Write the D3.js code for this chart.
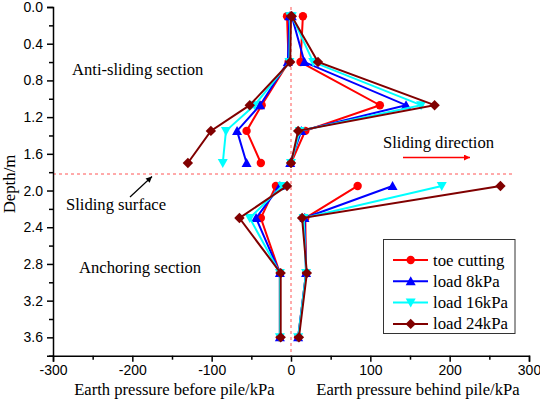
<!DOCTYPE html>
<html><head><meta charset="utf-8">
<script src="https://cdn.jsdelivr.net/npm/d3@7"></script>
<style>body{margin:0;background:#fff}svg{display:block}</style>
</head><body><svg id="c" width="540" height="399"></svg>
<script>
const seriesNames = ["toe cutting", "load 8kPa", "load 16kPa", "load 24kPa"];
const seriesColors = ["#ff0000", "#0000ff", "#00ffff", "#800000"];
const seriesSymbols = ["circle", "up", "down", "diamond"];
const upperDepth = [0.1, 0.6, 1.07, 1.35, 1.7];
const lowerDepth = [1.95, 2.3, 2.9, 3.6];
const beforeUpper = [
  [-5, -3, -37, -56, -38],
  [-2, -4, -39, -68, -56],
  [-1, -2, -46, -82, -86],
  [0, -1, -52, -101, -130]
];
const behindUpper = [
  [15, 12, 112, 18, 0],
  [1, 17, 145, 13, -1],
  [1, 28, 164, 11, 0],
  [1, 34, 181, 9, 0]
];
const beforeLower = [
  [-19, -38, -14, -14],
  [-14, -44, -14, -14],
  [-11, -52, -14, -14],
  [-5, -65, -13, -13]
];
const behindLower = [
  [84, 18, 19, 9],
  [128, 17, 19, 9],
  [190, 16, 19, 9],
  [264, 14, 20, 10]
];
const xTicks = [-300, -200, -100, 0, 100, 200, 300];
const yTicks = [0.0, 0.4, 0.8, 1.2, 1.6, 2.0, 2.4, 2.8, 3.2, 3.6];
const slidingDepth = 1.82;

const svg = d3.select("#c");
const x = d3.scaleLinear().domain([-300, 300]).range([53, 529]);
const y = d3.scaleLinear().domain([0, 3.8]).range([7, 355.7]);
const serif = "'Liberation Serif','Times New Roman',serif";
const sans = "'Liberation Sans',Arial,sans-serif";
const fsAnn = 16.6, fsLeg = 16.8;

// reference lines
svg.append("line").attr("x1", x(0)).attr("x2", x(0)).attr("y1", y(0)).attr("y2", y(3.8))
  .attr("stroke", "#ff5555").attr("stroke-width", 1).attr("stroke-dasharray", "3,3");
svg.append("line").attr("x1", x(-300)).attr("x2", x(282)).attr("y1", y(slidingDepth)).attr("y2", y(slidingDepth))
  .attr("stroke", "#ff5555").attr("stroke-width", 1).attr("stroke-dasharray", "3,3");

// axes
const xAxis = d3.axisBottom(x).tickValues(xTicks).tickSize(6).tickPadding(3).tickFormat(d => String(d));
svg.append("g").attr("transform", `translate(0,${y(3.8)})`).call(xAxis);
const xMinor = d3.axisBottom(x).tickValues(d3.range(-250, 300, 100)).tickSize(4).tickFormat("");
svg.append("g").attr("transform", `translate(0,${y(3.8)})`).call(xMinor).select(".domain").remove();
const yAxis = d3.axisLeft(y).tickValues(yTicks).tickSize(6).tickPadding(4).tickFormat(d3.format(".1f"));
svg.append("g").attr("transform", `translate(${x(-300)},0)`).call(yAxis);
const yMinor = d3.axisLeft(y).tickValues(d3.range(0.2, 3.81, 0.4)).tickSize(4).tickFormat("");
svg.append("g").attr("transform", `translate(${x(-300)},0)`).call(yMinor).select(".domain").remove();
svg.selectAll(".domain").attr("stroke-width", 1.5);
svg.selectAll(".tick line").attr("stroke-width", 1.5);
svg.selectAll(".tick text").attr("font-family", sans).attr("font-size", 14).attr("fill", "#000");

// axis titles
svg.append("text").attr("x", x(-147)).attr("y", 395).attr("text-anchor", "middle")
  .attr("font-family", serif).attr("font-size", fsAnn).text("Earth pressure before pile/kPa");
svg.append("text").attr("x", x(160)).attr("y", 395).attr("text-anchor", "middle")
  .attr("font-family", serif).attr("font-size", fsAnn).text("Earth pressure behind pile/kPa");
svg.append("text").attr("transform", `translate(15,184) rotate(-90)`).attr("text-anchor", "middle")
  .attr("font-family", serif).attr("font-size", 16.8).text("Depth/m");

// symbols
function drawSymbol(g, sym, cx, cy, color) {
  const s = 5;
  if (sym === "circle") g.append("circle").attr("cx", cx).attr("cy", cy).attr("r", 4.2).attr("fill", color);
  else if (sym === "up") g.append("path").attr("d", `M${cx},${cy - s} L${cx + s},${cy + s * 0.8} L${cx - s},${cy + s * 0.8}Z`).attr("fill", color);
  else if (sym === "down") g.append("path").attr("d", `M${cx},${cy + s} L${cx + s},${cy - s * 0.8} L${cx - s},${cy - s * 0.8}Z`).attr("fill", color);
  else g.append("path").attr("d", `M${cx},${cy - 5.2} L${cx + 5.2},${cy} L${cx},${cy + 5.2} L${cx - 5.2},${cy}Z`).attr("fill", color);
}

const line = d3.line().x(d => x(d[0])).y(d => y(d[1]));
seriesNames.forEach((name, i) => {
  const g = svg.append("g");
  const sets = [
    [beforeUpper[i], upperDepth], [behindUpper[i], upperDepth],
    [beforeLower[i], lowerDepth], [behindLower[i], lowerDepth]
  ];
  sets.forEach(([vals, depths]) => {
    const pts = vals.map((v, k) => [v, depths[k]]);
    g.append("path").attr("d", line(pts)).attr("fill", "none").attr("stroke", seriesColors[i]).attr("stroke-width", 2);
    pts.forEach(p => drawSymbol(g, seriesSymbols[i], x(p[0]), y(p[1]), seriesColors[i]));
  });
});

// annotations
svg.append("text").attr("x", 72).attr("y", 75).attr("font-family", serif).attr("font-size", fsAnn).text("Anti-sliding section");
svg.append("text").attr("x", 66).attr("y", 210).attr("font-family", serif).attr("font-size", fsAnn).text("Sliding surface");
svg.append("text").attr("x", 79).attr("y", 273).attr("font-family", serif).attr("font-size", fsAnn).text("Anchoring section");
svg.append("text").attr("x", 383).attr("y", 148).attr("font-family", serif).attr("font-size", fsAnn).text("Sliding direction");

const defs = svg.append("defs");
defs.append("marker").attr("id", "ahR").attr("viewBox", "0 0 10 10").attr("refX", 10).attr("refY", 5)
  .attr("markerWidth", 10).attr("markerHeight", 6).attr("markerUnits", "userSpaceOnUse").attr("orient", "auto")
  .append("path").attr("d", "M0,0 L10,5 L0,10Z").attr("fill", "#ff0000");
defs.append("marker").attr("id", "ahK").attr("viewBox", "0 0 10 10").attr("refX", 10).attr("refY", 5)
  .attr("markerWidth", 9).attr("markerHeight", 6).attr("markerUnits", "userSpaceOnUse").attr("orient", "auto")
  .append("path").attr("d", "M0,0 L10,5 L0,10Z").attr("fill", "#000");
svg.append("line").attr("x1", 403).attr("y1", 157.5).attr("x2", 470).attr("y2", 157.5)
  .attr("stroke", "#ff0000").attr("stroke-width", 1.5).attr("marker-end", "url(#ahR)");
svg.append("line").attr("x1", 130).attr("y1", 197).attr("x2", 152).attr("y2", 176.5)
  .attr("stroke", "#000").attr("stroke-width", 1.2).attr("marker-end", "url(#ahK)");

// legend
const lg = svg.append("g");
lg.append("rect").attr("x", 383.5).attr("y", 239.5).attr("width", 131.5).attr("height", 94)
  .attr("fill", "#fff").attr("stroke", "#333").attr("stroke-width", 1);
seriesNames.forEach((name, i) => {
  const ly = 260 + i * 21.3;
  lg.append("line").attr("x1", 393).attr("x2", 428).attr("y1", ly).attr("y2", ly)
    .attr("stroke", seriesColors[i]).attr("stroke-width", 2);
  drawSymbol(lg, seriesSymbols[i], 410.7, ly, seriesColors[i]);
  lg.append("text").attr("x", 433).attr("y", ly + 5.5).attr("font-family", serif).attr("font-size", fsLeg).text(name);
});
</script></body></html>
